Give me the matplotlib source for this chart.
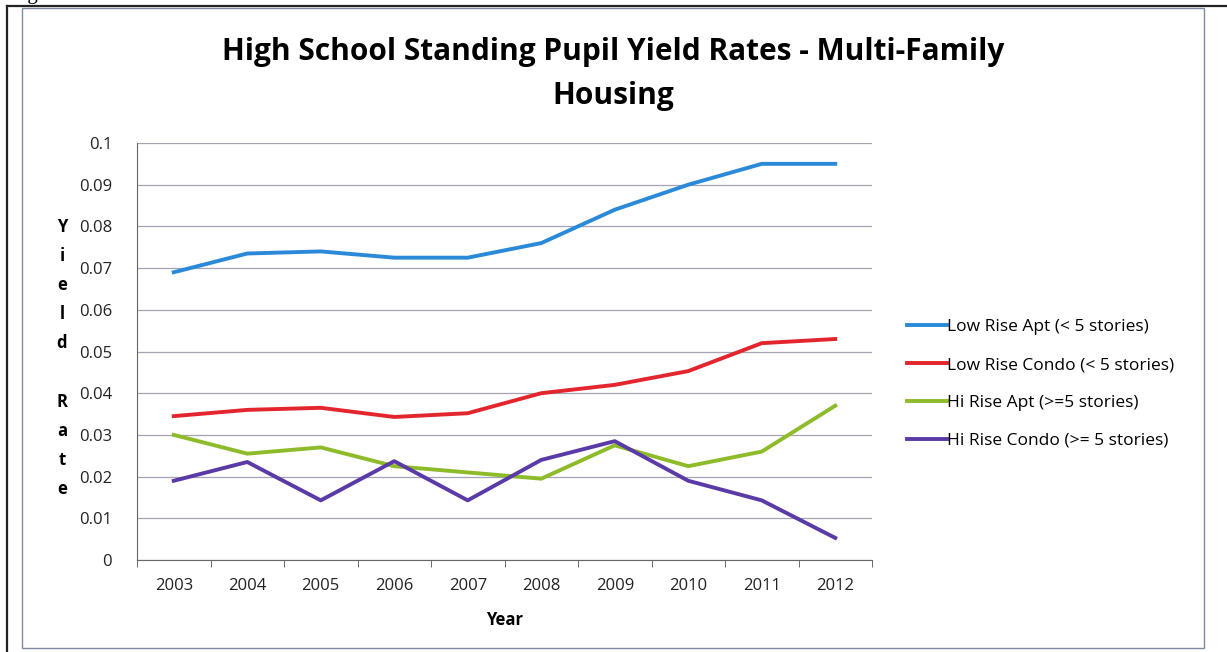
import matplotlib.pyplot as plt
from matplotlib.lines import Line2D
from matplotlib.patches import Rectangle
import numpy as np

# ----------------------------------------------------------------------- #
# Data
years = ['2003', '2004', '2005', '2006', '2007', '2008', '2009', '2010', '2011', '2012']
low_rise_apt = [0.069, 0.0735, 0.074, 0.0725, 0.0725, 0.076, 0.084, 0.090, 0.095, 0.095]
low_rise_condo = [0.0345, 0.036, 0.0365, 0.0343, 0.0352, 0.040, 0.042, 0.0453, 0.052, 0.053]
hi_rise_apt = [0.030, 0.0255, 0.027, 0.0225, 0.021, 0.0195, 0.0275, 0.0225, 0.026, 0.037]
hi_rise_condo = [0.019, 0.0235, 0.0143, 0.0237, 0.0143, 0.024, 0.0285, 0.019, 0.0143, 0.0053]
series_names = ['Low Rise Apt (< 5 stories)', 'Low Rise Condo (< 5 stories)',
                'Hi Rise Apt (>=5 stories)', 'Hi Rise Condo (>= 5 stories)']
y_ticks = [0, 0.01, 0.02, 0.03, 0.04, 0.05, 0.06, 0.07, 0.08, 0.09, 0.1]
y_tick_labels = ['0', '0.01', '0.02', '0.03', '0.04', '0.05', '0.06', '0.07', '0.08', '0.09', '0.1']

colors = ['#2a8ad8', '#e3262e', '#8dbb2a', '#5a3aa6']
font = 'Open Sans'

W, H = 1227, 652
fig = plt.figure(figsize=(W / 100, H / 100), dpi=100)
fig.patch.set_facecolor('white')

# scan frame lines
fig.add_artist(Line2D([7 / W, 7 / W], [0, 1 - 6 / H], transform=fig.transFigure, color='#222222', lw=1.6))
fig.add_artist(Line2D([7 / W, 1], [1 - 6 / H, 1 - 6 / H], transform=fig.transFigure, color='#222222', lw=1.6))
fig.add_artist(Rectangle((22 / W, 4 / H), (1204 - 22) / W, (H - 12) / H, transform=fig.transFigure,
                         fill=False, edgecolor='#7f8aa0', lw=1.0))
fig.text(10 / W, 1 + 6 / H, 'Figure 26', fontsize=15, family='Liberation Serif', va='center', ha='left')

ax = fig.add_axes([137 / W, 1 - 560 / H, (872 - 137) / W, (560 - 143) / H])
x = np.arange(len(years))
for vals, name, c in zip([low_rise_apt, low_rise_condo, hi_rise_apt, hi_rise_condo], series_names, colors):
    ax.plot(x, vals, color=c, lw=2.8, label=name, solid_joinstyle='round')

ax.set_xlim(-0.5, len(years) - 0.5)
ax.set_ylim(0, 0.1)
ax.set_yticks(y_ticks)
ax.set_yticklabels(y_tick_labels, family=font, fontsize=12, color='#222222')
ax.set_xticks(x)
ax.set_xticklabels(years, family=font, fontsize=12, color='#222222')
ax.set_xticks(np.arange(-0.5, len(years), 1.0), minor=True)
ax.tick_params(axis='x', which='major', length=0, pad=13)
ax.tick_params(axis='x', which='minor', length=5, color='#555555', direction='out')
ax.tick_params(axis='y', length=0, pad=18)
ax.grid(axis='y', color='#a4a4b4', lw=0.9)
ax.set_axisbelow(True)
for side in ['top', 'right']:
    ax.spines[side].set_visible(False)
ax.spines['left'].set_color('#666666')
ax.spines['bottom'].set_color('#666666')

ax.set_xlabel('Year', family=font, fontsize=12, fontweight='bold', labelpad=12)

# stacked vertical y label
fig.text(62 / W, 1 - 358 / H, '\n'.join('Yield Rate'), family=font, fontsize=12, fontweight='bold',
         ha='center', va='center', linespacing=1.8)

fig.suptitle('High School Standing Pupil Yield Rates - Multi-Family\nHousing', x=613 / W, y=1 - 37 / H,
             family=font, fontsize=21.5, fontweight='bold', va='top', linespacing=1.6)

fig.legend(loc='center left', bbox_to_anchor=(891 / W, 1 - 384 / H), frameon=False,
           prop={'family': font, 'size': 12.5}, handlelength=2.3, handletextpad=0.05, labelspacing=1.25)

fig.savefig('out.png', dpi=100)
